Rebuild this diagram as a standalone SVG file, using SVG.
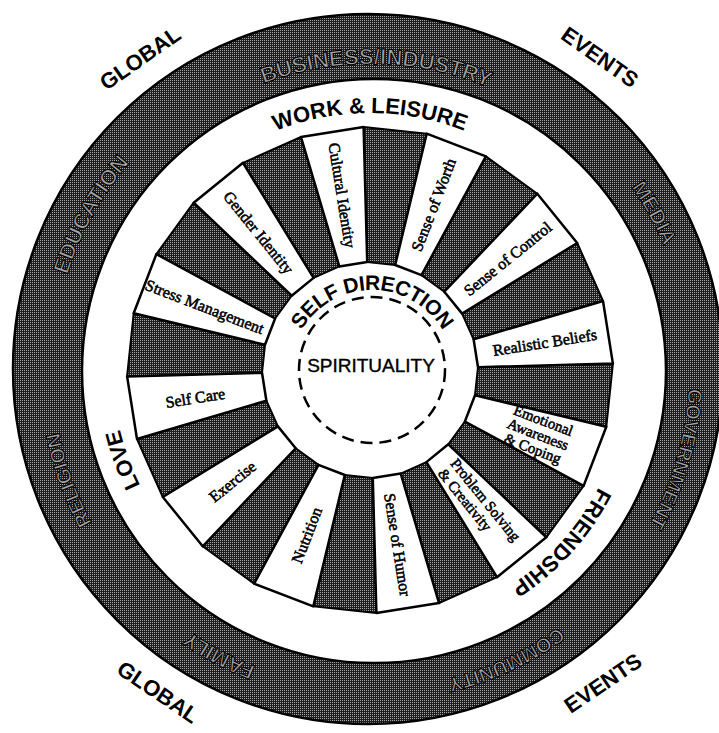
<svg xmlns="http://www.w3.org/2000/svg" width="719" height="733" viewBox="0 0 719 733">
<defs>
<pattern id="ht" width="2" height="2" patternUnits="userSpaceOnUse"><rect width="2" height="2" fill="#1e1e1e"/><rect width="1" height="1" fill="#a6a6a6"/></pattern>
<path id="ringA" d="M689,370 A318,318 0 1 1 53,370 A318,318 0 1 1 689,370"/>
<path id="ringB" d="M677,370 A306,306 0 1 1 65,370 A306,306 0 1 1 677,370"/>
<path id="wr" d="M627,370 A257,257 0 1 1 113,370 A257,257 0 1 1 627,370"/>
<path id="hubp" d="M454,372 A82,82 0 1 1 290,372 A82,82 0 1 1 454,372"/>
<style>
.d{fill:url(#ht);stroke:#000;stroke-width:2;stroke-linejoin:round}
.w{fill:#fff;stroke:#000;stroke-width:2.5;stroke-linejoin:round}
.lbl{font-family:"Liberation Serif","Times New Roman",serif;font-size:16px;fill:#000;stroke:#000;stroke-width:0.55;text-anchor:middle}
.sm{font-size:15px}
.sans{font-family:"Liberation Sans",Arial,sans-serif;font-weight:bold;fill:#000;text-anchor:middle}
.ring{font-family:"Liberation Sans",Arial,sans-serif;font-weight:bold;fill:#a2a2a2;stroke:#000;stroke-width:1.1;text-anchor:middle}
</style>
</defs>
<rect width="719" height="733" fill="#fff"/>

<g id="outer-ring">
<path d="M13,369 A355,355 0 1 0 723,369 A355,355 0 1 0 13,369 Z M82,371 A292,292 0 1 1 666,371 A292,292 0 1 1 82,371 Z" fill="url(#ht)" fill-rule="evenodd" stroke="#000" stroke-width="2.5"/>
<text class="ring" font-size="22"><textPath href="#ringB" startOffset="75.28%">BUSINESS/INDUSTRY</textPath></text>
<text class="ring" font-size="21"><textPath href="#ringA" startOffset="91.94%">MEDIA</textPath></text>
<text class="ring" font-size="20"><textPath href="#ringA" startOffset="4.5%">GOVERNMENT</textPath></text>
<text class="ring" font-size="20"><textPath href="#ringA" startOffset="18.06%">COMMUNITY</textPath></text>
<text class="ring" font-size="21"><textPath href="#ringA" startOffset="32.78%">FAMILY</textPath></text>
<text class="ring" font-size="20"><textPath href="#ringA" startOffset="44.44%">RELIGION</textPath></text>
<text class="ring" font-size="22"><textPath href="#ringA" startOffset="58.06%">EDUCATION</textPath></text>
</g>

<g id="outside-labels">
<text class="sans" font-size="22" transform="translate(140,58) rotate(-35)" dy="0.35em">GLOBAL</text>
<text class="sans" font-size="22" transform="translate(600,57) rotate(35)" dy="0.35em">EVENTS</text>
<text class="sans" font-size="22" transform="translate(158,692) rotate(34)" dy="0.35em">GLOBAL</text>
<text class="sans" font-size="22" transform="translate(603,683) rotate(-34)" dy="0.35em">EVENTS</text>
</g>

<g id="white-ring-labels">
<text class="sans" font-size="22"><textPath href="#wr" startOffset="75%">WORK &amp; LEISURE</textPath></text>
<text class="sans" font-size="22"><textPath href="#wr" startOffset="44.44%">LOVE</textPath></text>
<text class="sans" font-size="22"><textPath href="#wr" startOffset="11.67%">FRIENDSHIP</textPath></text>
</g>

<g id="dark-segments">
<polygon class="d" points="363.6,127.1 426.7,133.7 395.2,265.0 367.2,262.0"/>
<polygon class="d" points="485.9,156.4 537.3,193.7 444.3,291.7 421.5,275.1"/>
<polygon class="d" points="577.2,243.0 603.0,301.0 473.6,339.3 462.1,313.6"/>
<polygon class="d" points="612.9,363.6 606.3,426.7 475.0,395.2 478.0,367.2"/>
<polygon class="d" points="583.6,485.9 546.3,537.3 448.3,444.3 464.9,421.5"/>
<polygon class="d" points="497.0,577.2 439.0,603.0 400.7,473.6 426.4,462.1"/>
<polygon class="d" points="376.4,612.9 313.3,606.3 344.8,475.0 372.8,478.0"/>
<polygon class="d" points="254.1,583.6 202.7,546.3 295.7,448.3 318.5,464.9"/>
<polygon class="d" points="162.8,497.0 137.0,439.0 266.4,400.7 277.9,426.4"/>
<polygon class="d" points="127.1,376.4 133.7,313.3 265.0,344.8 262.0,372.8"/>
<polygon class="d" points="156.4,254.1 193.7,202.7 291.7,295.7 275.1,318.5"/>
<polygon class="d" points="243.0,162.8 301.0,137.0 339.3,266.4 313.6,277.9"/>
</g>

<g id="seg-cultural-identity"><polygon class="w" points="301.0,137.0 363.6,127.1 367.2,262.0 339.3,266.4"/>
<text class="lbl" transform="translate(342.3,195.2) rotate(81)" dy="0.35em">Cultural Identity</text></g>
<g id="seg-sense-of-worth"><polygon class="w" points="426.7,133.7 485.9,156.4 421.5,275.1 395.2,265.0"/>
<text class="lbl" transform="translate(433.4,204.8) rotate(-69)" dy="0.35em">Sense of Worth</text></g>
<g id="seg-sense-of-control"><polygon class="w" points="537.3,193.7 577.2,243.0 462.1,313.6 444.3,291.7"/>
<text class="lbl" transform="translate(507.6,258.6) rotate(-39)" dy="0.35em">Sense of Control</text></g>
<g id="seg-realistic-beliefs"><polygon class="w" points="603.0,301.0 612.9,363.6 478.0,367.2 473.6,339.3"/>
<text class="lbl" transform="translate(544.8,342.3) rotate(-9)" dy="0.35em">Realistic Beliefs</text></g>
<g id="seg-emotional"><polygon class="w" points="606.3,426.7 583.6,485.9 464.9,421.5 475.0,395.2"/>
<text class="lbl sm" transform="translate(538,434.5) rotate(21)"><tspan x="0" y="-10">Emotional</tspan><tspan x="0" y="5">Awareness</tspan><tspan x="0" y="20">&amp; Coping</tspan></text></g>
<g id="seg-problem-solving"><polygon class="w" points="546.3,537.3 497.0,577.2 426.4,462.1 448.3,444.3"/>
<text class="lbl sm" transform="translate(481.4,507.6) rotate(51)" style="text-anchor:start"><tspan x="-54" y="-3">Problem Solving</tspan><tspan x="-54" y="13">&amp; Creativity</tspan></text></g>
<g id="seg-sense-of-humor"><polygon class="w" points="439.0,603.0 376.4,612.9 372.8,478.0 400.7,473.6"/>
<text class="lbl" transform="translate(397.7,544.8) rotate(81)" dy="0.35em">Sense of Humor</text></g>
<g id="seg-nutrition"><polygon class="w" points="313.3,606.3 254.1,583.6 318.5,464.9 344.8,475.0"/>
<text class="lbl" transform="translate(306.6,535.2) rotate(-69)" dy="0.35em">Nutrition</text></g>
<g id="seg-exercise"><polygon class="w" points="202.7,546.3 162.8,497.0 277.9,426.4 295.7,448.3"/>
<text class="lbl" transform="translate(232.4,481.4) rotate(-39)" dy="0.35em">Exercise</text></g>
<g id="seg-self-care"><polygon class="w" points="137.0,439.0 127.1,376.4 262.0,372.8 266.4,400.7"/>
<text class="lbl" transform="translate(195.2,397.7) rotate(-9)" dy="0.35em">Self Care</text></g>
<g id="seg-stress-management"><polygon class="w" points="133.7,313.3 156.4,254.1 275.1,318.5 265.0,344.8"/>
<text class="lbl" transform="translate(204.8,306.6) rotate(21)" dy="0.35em">Stress Management</text></g>
<g id="seg-gender-identity"><polygon class="w" points="193.7,202.7 243.0,162.8 313.6,277.9 291.7,295.7"/>
<text class="lbl" transform="translate(258.6,232.4) rotate(51)" dy="0.35em">Gender Identity</text></g>

<g id="hub">
<circle cx="372" cy="370" r="73" fill="none" stroke="#000" stroke-width="2.5" stroke-dasharray="12 7"/>
<text class="sans" font-size="21" letter-spacing="-0.4"><textPath href="#hubp" startOffset="75%">SELF DIRECTION</textPath></text>
<text x="371" y="372" font-family="Liberation Sans, Arial, sans-serif" font-size="19" text-anchor="middle" fill="#000" stroke="#000" stroke-width="0.4">SPIRITUALITY</text>
</g>
</svg>
